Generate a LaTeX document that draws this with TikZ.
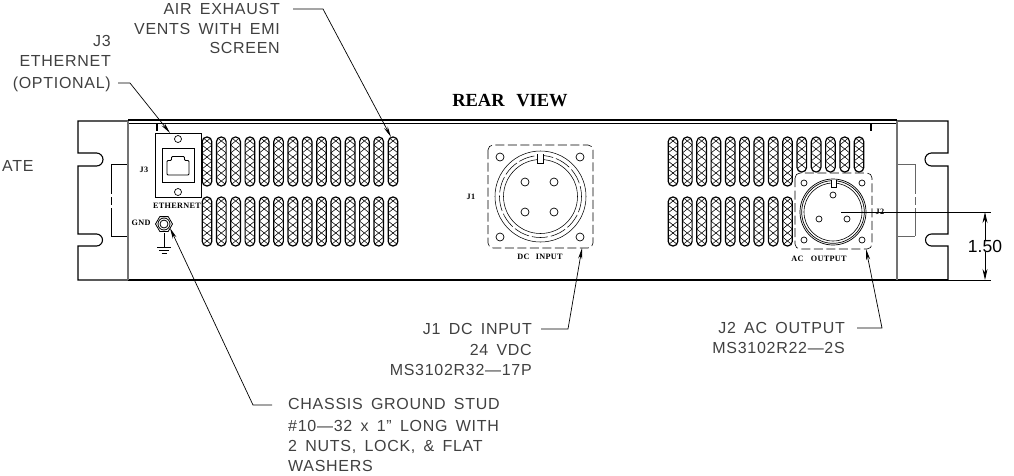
\documentclass[tikz,border=0pt]{standalone}
\usepackage{fontspec}
\setmainfont{Liberation Serif}
\newfontfamily\calloutfont[LetterSpace=4.5,WordSpace=1.6]{Liberation Sans}
\newfontfamily\dimfont{Liberation Sans}
\usetikzlibrary{arrows.meta}
\usetikzlibrary{shapes}

\tikzset{
  outline/.style={line width=1.1pt},
  slotline/.style={line width=1.2pt},
  hatchline/.style={line width=0.55pt},
  leader/.style={line width=0.7pt},
  leadertip/.style={leader,-{Stealth[length=11pt,width=4pt]}},
  calltext/.style={font=\calloutfont\fontsize{16}{16}\selectfont,text=black!75,inner sep=0pt},
  tinylabel/.style={font=\bfseries\fontsize{8.2}{9}\selectfont\addfontfeature{LetterSpace=4},inner sep=0pt},
  dashbox/.style={line width=0.6pt,dash pattern=on 9pt off 3.5pt,rounded corners=5pt}
}

% one vent slot: centre x, top y, bottom y
\newcommand{\ventslot}[3]{
  \begin{scope}
    \clip[rounded corners=4.6pt] ({#1-4.8},#2) rectangle ({#1+4.8},#3);
    \foreach \k in {0,...,8} {
      \draw[hatchline] ({#1-5},{#2+8*\k-8}) -- ({#1+5},{#2+8*\k});
      \draw[hatchline] ({#1-5},{#2+8*\k}) -- ({#1+5},{#2+8*\k-8});
    }
  \end{scope}
  \draw[slotline,rounded corners=4.6pt] ({#1-4.8},#2) rectangle ({#1+4.8},#3);
}

\begin{document}
\begin{tikzpicture}[x=1pt,y=-1pt]
  \useasboundingbox (0,0) rectangle (1014,475);
  \pgfmathsetmacro{\SlotPitch}{14.31}

  % ears
  \draw[outline] (128,121) -- (78,121) -- (78,153) -- (96.5,153) arc (-90:90:6.5) -- (78,166)
    -- (78,234) -- (96.5,234) arc (-90:90:6) -- (78,246) -- (78,280) -- (128,280);
  \draw[outline] (897,121) -- (948,121) -- (948,153) -- (931.5,153) arc (-90:-270:6.5) -- (948,166)
    -- (948,234) -- (931.5,234) arc (-90:-270:6) -- (948,246) -- (948,280) -- (897,280);
  \draw[line width=0.5pt] (128,164) -- (111,164);
  \draw[line width=0.5pt] (128,236) -- (111,236);
  \draw[line width=0.5pt,dash pattern=on 30pt off 3pt on 8pt off 3pt] (111,164) -- (111,236);
  \draw[line width=0.5pt,black!60] (897,164) -- (915,164);
  \draw[line width=0.5pt,black!60] (897,236) -- (915,236);
  \draw[line width=0.5pt,black!60,dash pattern=on 30pt off 3pt on 8pt off 3pt] (915,164) -- (915,236);

  % panel
  \draw[line width=1.2pt] (128,120) -- (897,120);
  \draw[line width=0.8pt] (128,123) -- (897,123);
  \draw[line width=1.3pt] (128,280) -- (948,280);
  \draw[line width=1.8pt,black!55] (128,121) -- (128,280);
  \draw[line width=1.8pt,black!55] (897,121) -- (897,280);
  \draw[line width=2pt] (157,123) -- (157,131);
  \draw[line width=2pt] (871,123) -- (871,131);

  % vents
  \foreach \n in {0,...,13} {
    \ventslot{207+\SlotPitch*\n}{137}{186}
    \ventslot{207+\SlotPitch*\n}{197}{246}
  }
  \foreach \n in {0,...,8} {
    \ventslot{673+\SlotPitch*\n}{137}{186}
    \ventslot{673+\SlotPitch*\n}{197}{246}
  }
  \foreach \n in {9,...,13} {
    \ventslot{673+\SlotPitch*\n}{137}{172}
  }

  % J3 plate
  \draw[line width=0.8pt] (155,133) rectangle (201,197);
  \draw[line width=0.7pt] (178,139) circle (3.5);
  \draw[line width=0.7pt] (178,192) circle (3.5);
  \draw[line width=0.9pt] (162,148) rectangle (194,182);
  \draw[line width=0.9pt,rounded corners=1pt] (167,175) -- (167,160.5) -- (171.5,160.5) -- (171.5,156.5)
    -- (184.5,156.5) -- (184.5,160.5) -- (189,160.5) -- (189,175) -- cycle;
  \node[tinylabel] (jthreelabel) at (144,170) {J3};
  \node[tinylabel] (ethernetlabel) at (177,206) {ETHERNET};

  % ground stud
  \node[tinylabel] (gndlabel) at (141,223) {GND};
  \draw[line width=0.8pt] (155.5,224) -- (159.8,216.6) -- (168.2,216.6) -- (172.5,224)
    -- (168.2,231.4) -- (159.8,231.4) -- cycle;
  \draw[line width=0.8pt] (164,224) circle (6);
  \draw[line width=0.8pt] (164,224) circle (4);
  \draw[line width=0.9pt] (164,233) -- (164,247);
  \draw[line width=0.9pt] (157,247) -- (171,247);
  \draw[line width=0.9pt] (159,250) -- (169,250);
  \draw[line width=0.9pt] (161.5,253) -- (166.5,253);

  % J1 connector
  \draw[dashbox] (488,145) rectangle (593,248);
  \foreach \cx/\cy in {500/157,580/157,500/237,580/237,525/182,554/182,525/212,554/212} {
    \draw[line width=0.7pt] (\cx,\cy) circle (4);
  }
  \draw[line width=0.55pt] (540.5,196.5) circle (45.5);
  \draw[line width=0.55pt,dash pattern=on 16pt off 3pt] (540.5,196.5) circle (41);
  \draw[line width=0.55pt] (540.5,196.5) circle (37);
  \draw[line width=0.6pt,fill=white] (537.5,154) -- (537.5,163.5) -- (543.5,163.5) -- (543.5,154);
  \node[tinylabel] (jonelabel) at (471,197) {J1};
  \node[tinylabel] (dcinputlabel) at (540,257) {DC\hspace{4pt} INPUT};

  % J2 connector
  \draw[dashbox] (795,173) rectangle (872,249);
  \foreach \cx/\cy in {804/183,862/183,804/240,862/240,833/195,819/219,847/219} {
    \draw[line width=0.7pt] (\cx,\cy) circle (3);
  }
  \draw[line width=0.7pt] (833,212) circle (33);
  \draw[line width=0.7pt] (833,212) circle (31.3);
  \draw[line width=0.6pt] (833,212) circle (29);
  \draw[line width=0.6pt,fill=white] (831,179.5) -- (831,187) -- (836.5,187) -- (836.5,179.5);
  \node[tinylabel] (jtwolabel) at (880,212) {J2};
  \node[tinylabel] (acoutputlabel) at (819,259) {AC\hspace{5pt} OUTPUT};

  % dimension
  \coordinate (dimcentre) at (841,212);
  \coordinate (dimtop) at (991,212);
  \coordinate (dimbase) at (905,280);
  \coordinate (dimlow) at (991,280);
  \draw[line width=1pt] (dimcentre) -- (dimtop);
  \draw[line width=0.9pt] (dimbase) -- (dimlow);
  \node[font=\dimfont\fontsize{17.5}{18}\selectfont,inner sep=0pt] (dimvalue) at (985,246) {1.50};
  \coordinate (dimupper) at (985,212);
  \coordinate (dimlower) at (985,280);
  \draw[line width=0.9pt,-{Stealth[length=11pt,width=5pt]}] (dimvalue.north) -- (dimupper);
  \draw[line width=0.9pt,-{Stealth[length=11pt,width=5pt]}] (dimvalue.south) -- (dimlower);

  % title
  \node[font=\bfseries\fontsize{18.5}{19}\selectfont,inner sep=0pt] (rearview) at (510,101) {REAR\hspace{7pt} VIEW};

  % callouts
  \node[calltext,anchor=base east] (exhaustA) at (280,14.5) {AIR EXHAUST};
  \node[calltext,anchor=base east] (exhaustB) at (280,34) {VENTS WITH EMI};
  \node[calltext,anchor=base east] (exhaustC) at (280,53.5) {SCREEN};
  \node[calltext,anchor=base east] (ethernetA) at (111,46.5) {J3};
  \node[calltext,anchor=base east] (ethernetB) at (111,66) {ETHERNET};
  \node[calltext,anchor=base east] (ethernetC) at (111,88.5) {(OPTIONAL)};
  \node[calltext,anchor=base west] (plateleft) at (2,171) {ATE};
  \node[calltext,anchor=base east] (joneA) at (532,334.5) {J1 DC INPUT};
  \node[calltext,anchor=base east] (joneB) at (532,355) {24 VDC};
  \node[calltext,anchor=base east] (joneC) at (532,375.5) {MS3102R32—17P};
  \node[calltext,anchor=base east] (jtwoA) at (845,333.5) {J2 AC OUTPUT};
  \node[calltext,anchor=base east] (jtwoB) at (845,353.5) {MS3102R22—2S};
  \node[calltext,anchor=base west] (studA) at (288,409.5) {CHASSIS GROUND STUD};
  \node[calltext,anchor=base west] (studB) at (288,431) {\#10—32 x 1” LONG WITH};
  \node[calltext,anchor=base west] (studC) at (288,451.5) {2 NUTS, LOCK, \& FLAT};
  \node[calltext,anchor=base west] (studD) at (288,471.5) {WASHERS};

  % leaders
  \coordinate (exhauststart) at (293,9);
  \coordinate (exhaustbend) at (323,9);
  \coordinate (exhausttip) at (391,137);
  \draw[leadertip] (exhauststart) -- (exhaustbend) -- (exhausttip);
  \coordinate (ethernetstart) at (118,83);
  \coordinate (ethernetbend) at (130,83);
  \coordinate (ethernettip) at (170,133);
  \draw[leadertip] (ethernetstart) -- (ethernetbend) -- (ethernettip);
  \coordinate (studstart) at (272,405);
  \coordinate (studbend) at (253,405);
  \coordinate (studtip) at (170,228);
  \draw[leadertip] (studstart) -- (studbend) -- (studtip);
  \coordinate (jonestart) at (541,329);
  \coordinate (jonebend) at (568,329);
  \coordinate (jonetip) at (582,248);
  \draw[leadertip] (jonestart) -- (jonebend) -- (jonetip);
  \coordinate (jtwostart) at (857,328);
  \coordinate (jtwobend) at (882,328);
  \coordinate (jtwotip) at (866,249);
  \draw[leadertip] (jtwostart) -- (jtwobend) -- (jtwotip);

\end{tikzpicture}
\end{document}
